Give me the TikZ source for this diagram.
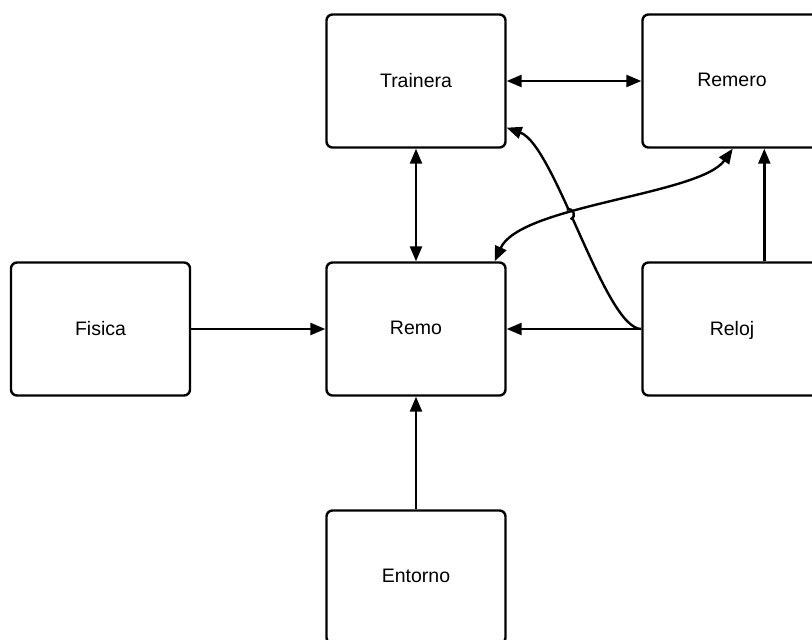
\documentclass[tikz,border=0pt]{standalone}
\usepackage{fontspec}
\setmainfont{Liberation Sans}
\usetikzlibrary{arrows.meta,calc,intersections}
\begin{document}
\begin{tikzpicture}[x=1pt,y=-1pt,
  box/.style={draw,line width=2.4pt,rounded corners=6pt,minimum width=179pt,minimum height=133pt,font=\fontsize{19.5}{22}\selectfont,fill=white,text depth=2pt},
  arr/.style={line width=2.4pt,-{Triangle[length=15pt,width=12pt]}},
  dbl/.style={line width=2.4pt,{Triangle[length=15pt,width=12pt]}-{Triangle[length=15pt,width=12pt]}}]
\useasboundingbox (0,0) rectangle (812,640);
\clip (0,0) rectangle (812,640);
\node[box] (tr) at (416,81) {Trainera};
\node[box] (rm) at (732,81) {Remero};
\node[box] (fi) at (100.5,329) {Fisica};
\node[box] (remo) at (416,329) {Remo};
\node[box] (re) at (732,329) {Reloj};
\node[box] (en) at (416,577) {Entorno};
\draw[dbl] (tr) -- (rm);
\draw[dbl] (tr) -- (remo);
\draw[arr] (fi) -- (remo);
\draw[arr] (re) -- (remo);
\draw[arr] (en) -- (remo);
\draw[arr] ([xshift=123pt]re.north west) -- ([xshift=123pt]rm.south west);
\draw[arr,name path=vc] (re.west) .. controls (605,329) and (555,145) .. ([yshift=21pt]tr.south east);
\path[name path=sc] ([xshift=-12pt]remo.north east) .. controls (520,205) and (700,195) .. ([xshift=-90pt]rm.south east);
\path[name intersections={of=vc and sc,by=X}];
\fill[white] (X) circle (5.4pt);
\draw[line width=2.4pt] ($(X)+(1.9,4.8)$) .. controls ($(X)+(8.4,2.2)$) and ($(X)+(4.6,-7.4)$) .. ($(X)+(-1.9,-4.8)$);
\draw[dbl] ([xshift=-12pt]remo.north east) .. controls (520,205) and (700,195) .. ([xshift=-90pt]rm.south east);
\end{tikzpicture}
\end{document}
